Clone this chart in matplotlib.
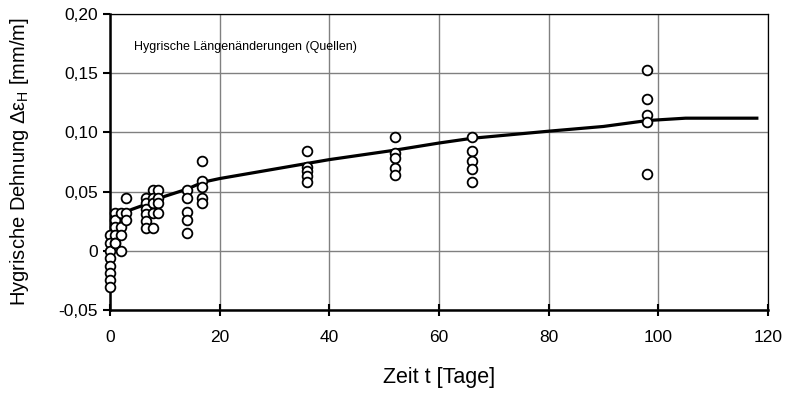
import matplotlib.pyplot as plt
import numpy as np

days = [0, 0, 0, 0, 0, 0, 0, 0,
        1, 1, 1, 1, 1, 1,
        2, 2, 2, 2,
        3, 3, 3,
        6.5, 6.5, 6.5, 6.5, 6.5, 6.5,
        7.8, 7.8, 7.8, 7.8, 7.8,
        8.8, 8.8, 8.8, 8.8,
        14, 14, 14, 14, 14,
        16.7, 16.7, 16.7, 16.7, 16.7,
        36, 36, 36, 36, 36,
        52, 52, 52, 52, 52,
        66, 66, 66, 66, 66,
        98, 98, 98, 98, 98]
strain = [0.013, 0.007, 0.0, -0.006, -0.013, -0.019, -0.025, -0.031,
          0.032, 0.026, 0.020, 0.013, 0.007, 0.007,
          0.032, 0.020, 0.013, 0.0,
          0.045, 0.032, 0.026,
          0.045, 0.040, 0.035, 0.031, 0.025, 0.019,
          0.051, 0.045, 0.040, 0.032, 0.019,
          0.051, 0.045, 0.040, 0.032,
          0.051, 0.045, 0.033, 0.026, 0.015,
          0.076, 0.059, 0.054, 0.045, 0.040,
          0.084, 0.071, 0.067, 0.063, 0.058,
          0.096, 0.083, 0.078, 0.070, 0.064,
          0.096, 0.084, 0.076, 0.069, 0.058,
          0.153, 0.128, 0.115, 0.109, 0.065]

# fitted curve
fit_t = [0, 1, 2, 4, 7, 10, 14, 17, 20, 30, 40, 52, 60, 66, 80, 90, 98, 105, 118]
fit_e = [0.018, 0.027, 0.031, 0.035, 0.040, 0.046, 0.052, 0.058, 0.061, 0.069,
         0.077, 0.085, 0.091, 0.095, 0.101, 0.105, 0.110, 0.112, 0.112]

plt.rcParams['font.family'] = ['Liberation Sans', 'DejaVu Sans']

fig = plt.figure(figsize=(7.94, 3.95), dpi=100)
ax = fig.add_axes([0.1385, 0.2152, 0.8285, 0.7494])

ax.plot(fit_t, fit_e, color='black', lw=2.3, zorder=3)
ax.plot(days, strain, 'o', mfc='white', mec='black', mew=1.3, ms=7,
        linestyle='none', zorder=4, clip_on=False)

ax.set_xlim(0, 120)
ax.set_ylim(-0.05, 0.20)
ax.set_xticks(np.arange(0, 121, 20))
yt = [-0.05, 0, 0.05, 0.10, 0.15, 0.20]
ax.set_yticks(yt)
ax.set_yticklabels(['-0,05', '0', '0,05', '0,10', '0,15', '0,20'])

ax.grid(True, color='#808080', lw=1)
ax.set_axisbelow(True)

for side in ['left', 'bottom']:
    ax.spines[side].set_linewidth(1.8)
for side in ['top', 'right']:
    ax.spines[side].set_linewidth(0.9)

ax.tick_params(axis='x', direction='inout', length=9, width=1.5, labelsize=12.5, pad=10)
ax.tick_params(axis='y', direction='out', length=5, width=1.5, labelsize=12.5)

ax.set_xlabel('Zeit t [Tage]', fontsize=15.5, labelpad=16)
ax.set_ylabel(r'Hygrische Dehnung Δε$_\mathregular{H}$ [mm/m]', fontsize=14.5, labelpad=20)

ax.text(0.036, 0.888, 'Hygrische Längenänderungen (Quellen)', transform=ax.transAxes,
        fontsize=9, va='center')

fig.savefig('out.png', dpi=100)
